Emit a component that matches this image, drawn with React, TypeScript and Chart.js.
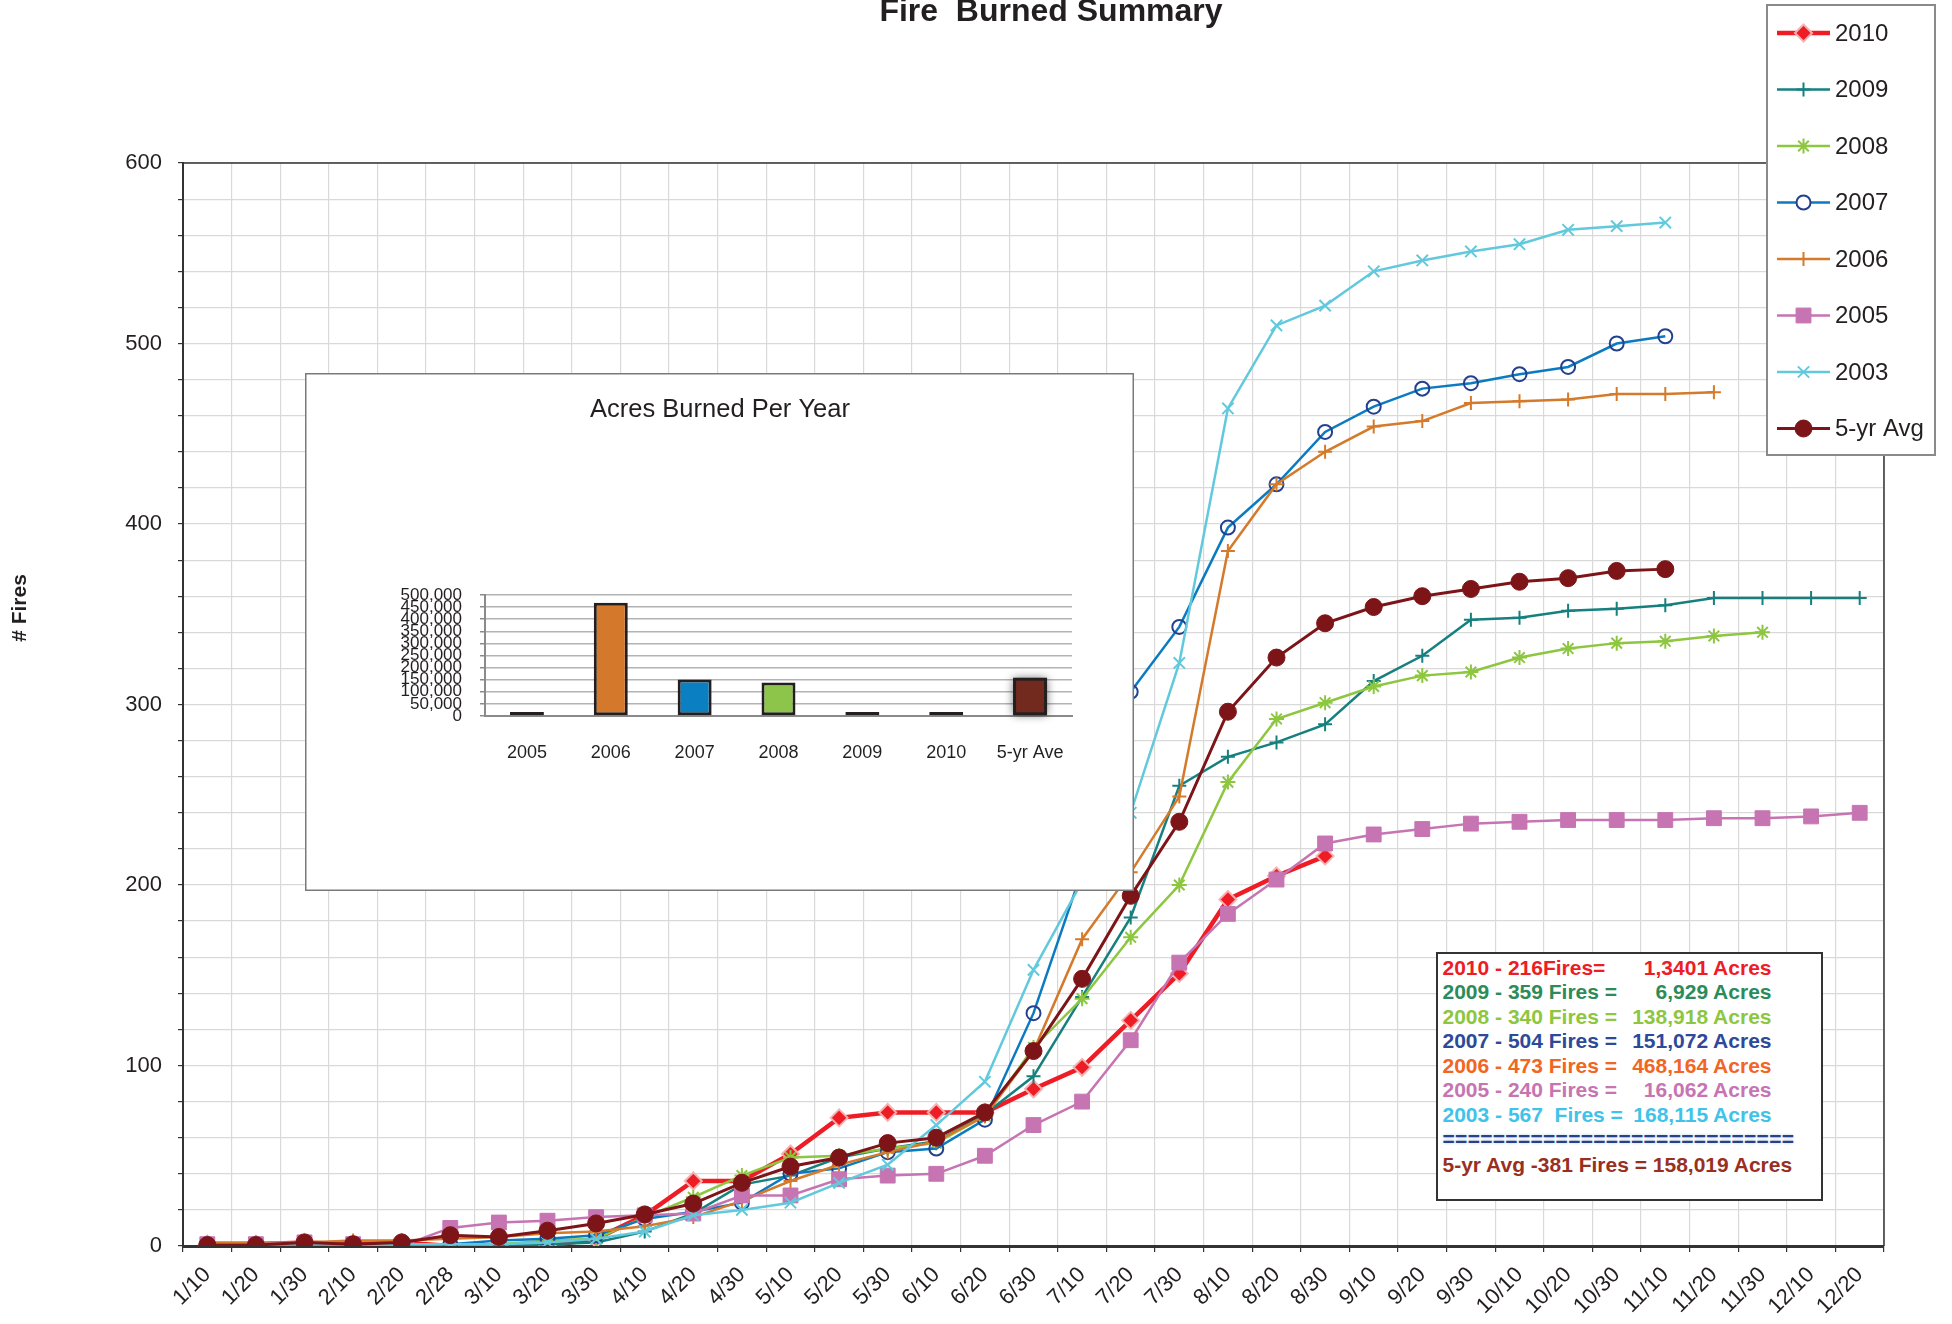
import React, { useEffect, useRef } from 'react';
import { Chart, registerables } from 'chart.js';
import { drawPoint } from 'chart.js/helpers';

Chart.register(...registerables);

const FONT = "'Liberation Sans', Arial, Helvetica, sans-serif";
Chart.defaults.font.family = FONT;

// ---------- data ----------
const dateLabels = ['1/10', '1/20', '1/30', '2/10', '2/20', '2/28', '3/10', '3/20', '3/30', '4/10', '4/20', '4/30', '5/10', '5/20', '5/30', '6/10', '6/20', '6/30', '7/10', '7/20', '7/30', '8/10', '8/20', '8/30', '9/10', '9/20', '9/30', '10/10', '10/20', '10/30', '11/10', '11/20', '11/30', '12/10', '12/20'];

const fires2010 = [1, 1, 2, 1, 2, 0, 0, 0, 4, 17, 36, 36, 51, 71, 74, 74, 74, 87, 99, 125, 151, 192, 205, 216];
const fires2009 = [1, 1, 1, 1, 1, 1, 1, 1, 2, 8, 18, 34, 39, 49, 54, 58, 73, 94, 138, 182, 255, 271, 279, 289, 313, 327, 347, 348, 352, 353, 355, 359, 359, 359, 359];
const fires2008 = [1, 1, 1, 1, 1, 1, 1, 3, 4, 16, 27, 39, 49, 50, 54, 57, 72, 110, 137, 171, 200, 257, 292, 301, 310, 316, 318, 326, 331, 334, 335, 338, 340];
const fires2007 = [1, 1, 1, 1, 1, 1, 3, 4, 6, 15, 19, 24, 40, 43, 52, 54, 70, 129, 208, 307, 343, 398, 422, 451, 465, 475, 478, 483, 487, 500, 504];
const fires2006 = [2, 2, 2, 3, 3, 4, 5, 7, 8, 11, 16, 25, 36, 45, 52, 58, 72, 108, 170, 207, 249, 385, 422, 440, 454, 457, 467, 468, 469, 472, 472, 473];
const fires2005 = [1, 1, 2, 1, 0, 10, 13, 14, 16, 17, 18, 28, 28, 37, 39, 40, 50, 67, 80, 114, 157, 184, 203, 223, 228, 231, 234, 235, 236, 236, 236, 237, 237, 238, 240];
const fires2003 = [1, 1, 1, 1, 1, 1, 1, 2, 4, 8, 17, 20, 24, 35, 45, 67, 91, 153, 202, 240, 323, 464, 510, 521, 540, 546, 551, 555, 563, 565, 567];
const fires5yrAvg = [0.5, 0.5, 2, 1, 2, 6, 5, 8.5, 12.5, 17.5, 23.5, 35, 44, 49, 57, 60, 74, 108, 148, 194, 235, 296, 326, 345, 354, 360, 364, 368, 370, 374, 375];

const seriesNames = ['2010', '2009', '2008', '2007', '2006', '2005', '2003', '5-yr Avg'];

const yTickValues = [0, 100, 200, 300, 400, 500, 600];

const barLabels = ['2005', '2006', '2007', '2008', '2009', '2010', '5-yr Ave'];
const barAcres = [16062, 468164, 151072, 138918, 6929, 13401, 158019];
const barColors = ['#c774b4', '#d4782b', '#0a7fc2', '#8dc54b', '#2a2a2a', '#2a2a2a', '#722a1e'];

const summaryRows = [
  { left: '2010 - 216Fires=', right: '1,3401 Acres', color: '#ee1c25' },
  { left: '2009 - 359 Fires =', right: '6,929 Acres', color: '#2b8c5a' },
  { left: '2008 - 340 Fires =', right: '138,918 Acres', color: '#8dc63f' },
  { left: '2007 - 504 Fires =', right: '151,072 Acres', color: '#2d4a9a' },
  { left: '2006 - 473 Fires =', right: '468,164 Acres', color: '#f26522' },
  { left: '2005 - 240 Fires =', right: '16,062 Acres', color: '#c674b2' },
  { left: '2003 - 567  Fires =', right: '168,115 Acres', color: '#3fc3ea' },
];
const summaryRule = '============================';
const summaryAvg = '5-yr Avg -381 Fires = 158,019 Acres';

// ---------- styles ----------
const seriesStyle = [
  { color: '#ee1c25', width: 4.5, style: 'rectRot', radius: 8.5, bg: '#ee1c25', border: 'rgba(247,178,178,0.95)', bw: 2 },
  { color: '#15807e', width: 2.5, style: 'cross', radius: 7, bg: '#15807e', border: '#15807e', bw: 2 },
  { color: '#8dc63f', width: 2.5, style: 'star', radius: 7.5, bg: '#8dc63f', border: '#8dc63f', bw: 2 },
  { color: '#0b7bc1', width: 2.5, style: 'circle', radius: 7, bg: 'rgba(0,0,0,0)', border: '#23408f', bw: 2 },
  { color: '#d47a2a', width: 2.5, style: 'cross', radius: 7, bg: '#d47a2a', border: '#d47a2a', bw: 2 },
  { color: '#c674b2', width: 2.5, style: 'rect', radius: 10.5, bg: '#c674b2', border: '#c674b2', bw: 1 },
  { color: '#62c9dd', width: 2.5, style: 'crossRot', radius: 8, bg: '#62c9dd', border: '#62c9dd', bw: 2 },
  { color: '#7d1518', width: 3, style: 'circle', radius: 8.5, bg: '#7d1518', border: '#7d1518', bw: 1 },
];

const seriesData = [fires2010, fires2009, fires2008, fires2007, fires2006, fires2005, fires2003, fires5yrAvg];

const decorPlugin = {
  id: 'decor',
  beforeDraw(chart: any) {
    const ctx = chart.ctx;
    ctx.save();
    ctx.fillStyle = '#ffffff';
    ctx.fillRect(0, 0, chart.width, chart.height);
    ctx.restore();
  },
  afterDraw(chart: any) {
    const ctx = chart.ctx;
    const a = chart.chartArea;
    ctx.save();
    // plot frame (top + right)
    ctx.strokeStyle = '#333333';
    ctx.lineWidth = 1.5;
    ctx.beginPath();
    ctx.moveTo(a.left, a.top);
    ctx.lineTo(a.right, a.top);
    ctx.lineTo(a.right, a.bottom);
    ctx.stroke();

    // main title
    ctx.fillStyle = '#231f20';
    ctx.font = `bold 32px ${FONT}`;
    ctx.textAlign = 'center';
    ctx.textBaseline = 'alphabetic';
    ctx.fillText('Fire  Burned Summary', 1051, 21);

    // y axis title
    ctx.save();
    ctx.translate(20, 608);
    ctx.rotate(-Math.PI / 2);
    ctx.font = `bold 21px ${FONT}`;
    ctx.textAlign = 'center';
    ctx.textBaseline = 'middle';
    ctx.fillText('# Fires', 0, 0);
    ctx.restore();

    // legend
    const bx = 1767, by = 5, bw = 168, bh = 450;
    ctx.fillStyle = '#ffffff';
    ctx.fillRect(bx, by, bw, bh);
    ctx.strokeStyle = '#8a8a8a';
    ctx.lineWidth = 2;
    ctx.strokeRect(bx, by, bw, bh);
    chart.data.datasets.forEach((ds: any, k: number) => {
      const y = 33 + 56.5 * k;
      ctx.strokeStyle = ds.borderColor;
      ctx.lineWidth = ds.borderWidth;
      ctx.beginPath();
      ctx.moveTo(1777, y);
      ctx.lineTo(1830, y);
      ctx.stroke();
      const bg = ds.pointBackgroundColor === 'rgba(0,0,0,0)' ? '#ffffff' : ds.pointBackgroundColor;
      ctx.fillStyle = bg;
      ctx.strokeStyle = ds.pointBorderColor;
      ctx.lineWidth = ds.pointBorderWidth;
      drawPoint(ctx, { pointStyle: ds.pointStyle, rotation: 0, radius: ds.pointRadius, borderWidth: ds.pointBorderWidth }, 1803.5, y);
      ctx.fillStyle = '#231f20';
      ctx.font = `24px ${FONT}`;
      ctx.textAlign = 'left';
      ctx.textBaseline = 'middle';
      ctx.fillText(ds.label, 1835, y + 1);
    });
    ctx.restore();
  },
};

function mainConfig(): any {
  const datasets = seriesNames.map((name, i) => {
    const s = seriesStyle[i];
    return {
      label: name,
      data: seriesData[i],
      borderColor: s.color,
      borderWidth: s.width,
      backgroundColor: s.color,
      pointStyle: s.style,
      pointRadius: s.radius,
      pointBackgroundColor: s.bg,
      pointBorderColor: s.border,
      pointBorderWidth: s.bw,
      tension: 0,
      fill: false,
      order: seriesNames.length - 1 - i,
    };
  });
  return {
    type: 'line',
    data: { labels: dateLabels, datasets },
    options: {
      responsive: false,
      animation: false,
      devicePixelRatio: 1,
      events: [],
      layout: { padding: { top: 163, right: 68, left: 0, bottom: 0 } },
      plugins: { legend: { display: false }, title: { display: false }, tooltip: { enabled: false } },
      scales: {
        x: {
          type: 'category',
          offset: true,
          grid: { offset: true, color: '#d9d9d9', lineWidth: 1.2, tickColor: '#333333', tickLength: 6, drawTicks: true },
          border: { color: '#333333', width: 3 },
          ticks: { autoSkip: false, minRotation: 45, maxRotation: 45, font: { size: 22, family: FONT }, color: '#231f20', padding: 10 },
          afterFit: (s: any) => { s.height = 78; },
        },
        y: {
          min: 0,
          max: 600,
          ticks: {
            stepSize: 20,
            autoSkip: false,
            callback: (v: any) => (yTickValues.includes(Number(v)) ? String(v) : ''),
            font: { size: 22, family: FONT },
            color: '#231f20',
            padding: 16,
          },
          grid: { color: '#d9d9d9', lineWidth: 1.2, tickColor: '#333333', tickLength: 5 },
          border: { color: '#333333', width: 2 },
          afterFit: (s: any) => { s.width = 183; },
        },
      },
    },
    plugins: [decorPlugin],
  };
}

const insetPlugin = {
  id: 'insetDecor',
  beforeDraw(chart: any) {
    const ctx = chart.ctx;
    ctx.save();
    ctx.fillStyle = '#ffffff';
    ctx.fillRect(0, 0, chart.width, chart.height);
    ctx.restore();
  },
  beforeDatasetsDraw(chart: any) {
    const meta = chart.getDatasetMeta(0);
    const el = meta.data[6];
    if (!el) return;
    const p = el.getProps(['x', 'y', 'base', 'width'], true);
    const ctx = chart.ctx;
    ctx.save();
    ctx.shadowColor = 'rgba(0,0,0,0.75)';
    ctx.shadowBlur = 9;
    ctx.fillStyle = 'rgba(30,10,10,0.8)';
    ctx.fillRect(p.x - p.width / 2, p.y, p.width, p.base - p.y);
    ctx.restore();
  },
  afterDraw(chart: any) {
    const ctx = chart.ctx;
    ctx.save();
    ctx.fillStyle = '#231f20';
    ctx.font = `25.5px ${FONT}`;
    ctx.textAlign = 'center';
    ctx.textBaseline = 'middle';
    ctx.fillText('Acres Burned Per Year', 415, 37);
    ctx.strokeStyle = '#7a7a7a';
    ctx.lineWidth = 1.5;
    ctx.strokeRect(0.75, 0.75, chart.width - 1.5, chart.height - 1.5);
    ctx.restore();
  },
};

function insetConfig(): any {
  return {
    type: 'bar',
    data: {
      labels: barLabels,
      datasets: [{
        label: 'Acres',
        data: barAcres,
        backgroundColor: barColors,
        borderColor: '#231f20',
        borderWidth: 3,
        borderSkipped: false,
        minBarLength: 4,
        barPercentage: 0.405,
        categoryPercentage: 1,
      }],
    },
    options: {
      responsive: false,
      animation: false,
      devicePixelRatio: 1,
      events: [],
      layout: { padding: { top: 222, right: 62, left: 0, bottom: 0 } },
      plugins: {
        legend: { display: false },
        tooltip: { enabled: false },
        title: { display: false },
      },
      scales: {
        x: {
          grid: { display: false },
          border: { color: '#8a8a8a', width: 2 },
          ticks: { font: { size: 18, family: FONT }, color: '#231f20', padding: 18 },
          afterFit: (s: any) => { s.height = 175; },
        },
        y: {
          min: 0,
          max: 500000,
          ticks: {
            stepSize: 50000,
            autoSkip: false,
            font: { size: 17, family: FONT },
            color: '#231f20',
            padding: 18,
            callback: (v: any) => Number(v).toLocaleString('en-US'),
          },
          grid: { color: '#b3b3b3', lineWidth: 1.5, tickColor: '#8a8a8a', tickLength: 5 },
          border: { color: '#8a8a8a', width: 2 },
          afterFit: (s: any) => { s.width = 180; },
        },
      },
    },
    plugins: [insetPlugin],
  };
}

export default function App() {
  const mainRef = useRef<HTMLCanvasElement>(null);
  const insetRef = useRef<HTMLCanvasElement>(null);

  useEffect(() => {
    document.body.style.margin = '0';
    document.body.style.overflow = 'hidden';
    const c1 = new Chart(mainRef.current as HTMLCanvasElement, mainConfig());
    const c2 = new Chart(insetRef.current as HTMLCanvasElement, insetConfig());
    return () => {
      c1.destroy();
      c2.destroy();
    };
  }, []);

  const rowStyle: React.CSSProperties = {
    display: 'flex',
    justifyContent: 'space-between',
    width: 329,
    height: 24.5,
    lineHeight: '24.5px',
    whiteSpace: 'pre',
  };

  return (
    <div style={{ position: 'absolute', left: 0, top: 0, width: 1952, height: 1324, overflow: 'hidden', background: '#ffffff', fontFamily: FONT }}>
      <canvas ref={mainRef} width={1952} height={1324} style={{ position: 'absolute', left: 0, top: 0, width: 1952, height: 1324 }} />
      <canvas ref={insetRef} width={829} height={518} style={{ position: 'absolute', left: 305, top: 373, width: 829, height: 518 }} />
      <div
        style={{
          position: 'absolute',
          left: 1436,
          top: 952,
          width: 387,
          height: 249,
          boxSizing: 'border-box',
          border: '2.5px solid #333333',
          background: '#ffffff',
          paddingTop: 1.5,
          paddingLeft: 4.5,
          fontWeight: 'bold',
          fontSize: 21,
        }}
      >
        {summaryRows.map((r) => (
          <div key={r.left} style={{ ...rowStyle, color: r.color }}>
            <span>{r.left}</span>
            <span>{r.right}</span>
          </div>
        ))}
        <div style={{ ...rowStyle, width: 360, letterSpacing: 0.3, color: '#2e3f8a', textShadow: '0 0 3px #a9d3e6' }}>{summaryRule}</div>
        <div style={{ ...rowStyle, width: 370, color: '#99301f', marginTop: 1.5 }}>{summaryAvg}</div>
      </div>
    </div>
  );
}
